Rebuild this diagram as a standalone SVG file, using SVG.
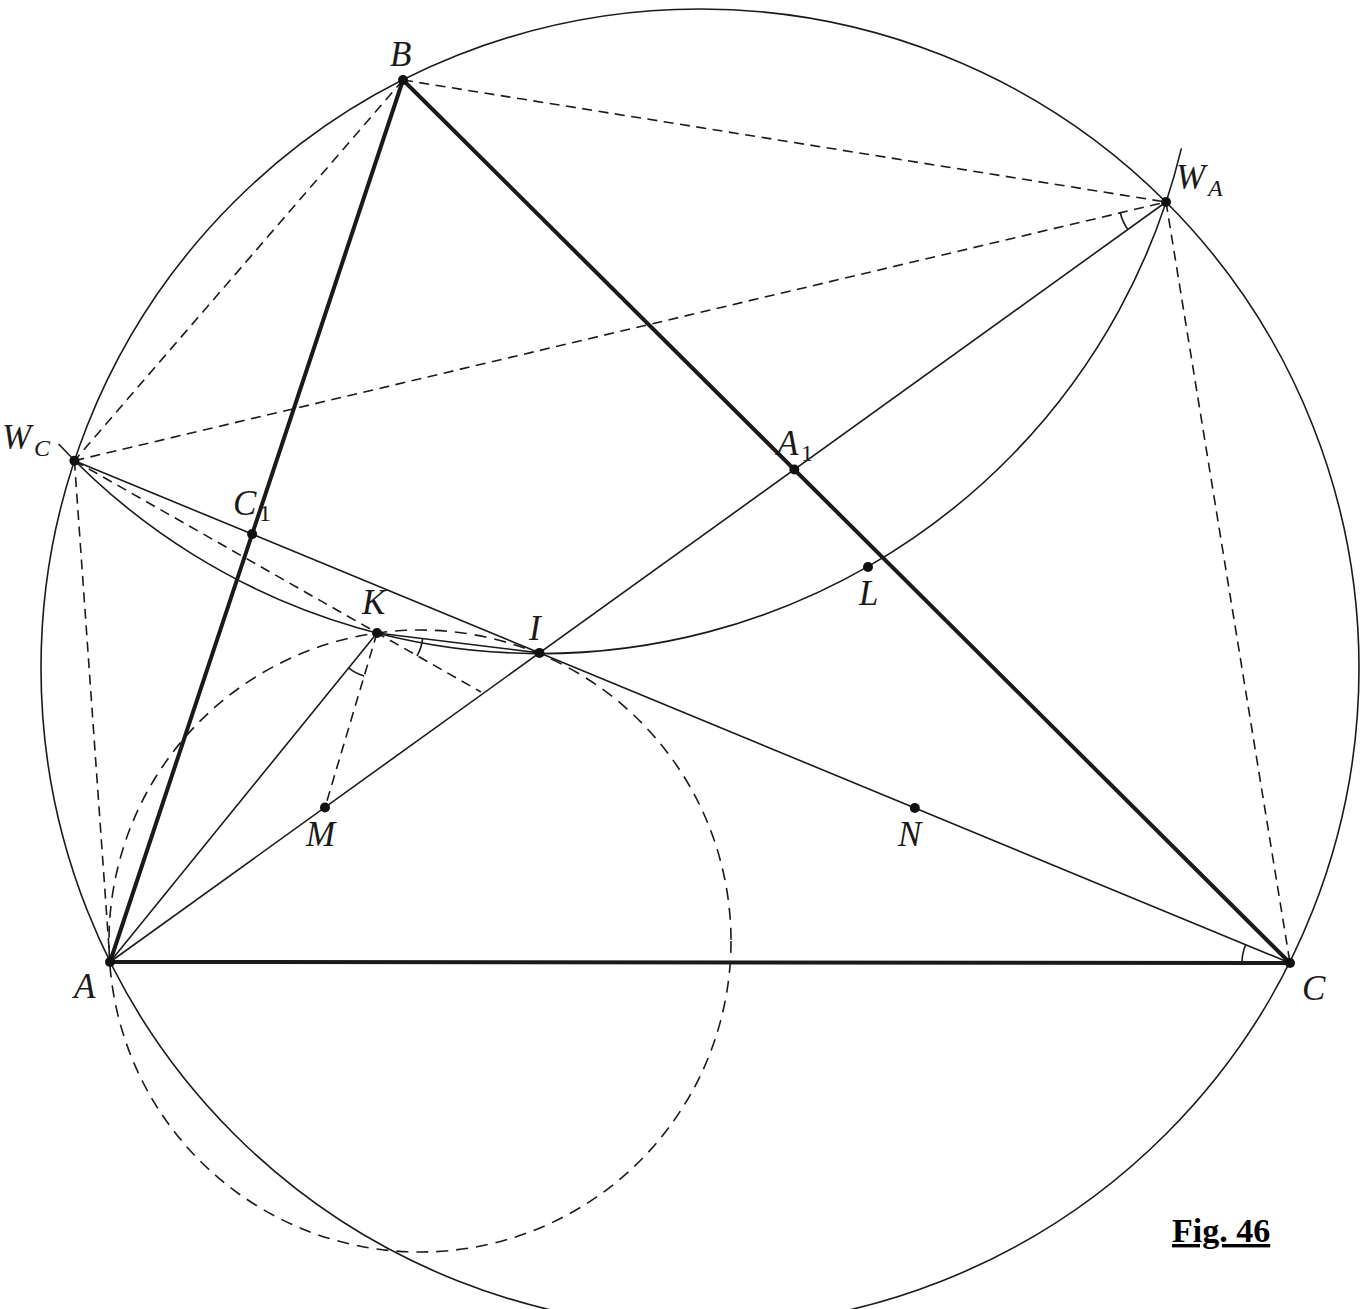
<svg xmlns="http://www.w3.org/2000/svg" width="1366" height="1309" viewBox="0 0 1366 1309">
<style>
.thin{fill:none;stroke:#1a1a1a;stroke-width:1.6}
.thick{fill:none;stroke:#1a1a1a;stroke-width:4;stroke-linecap:round}
.dash{fill:none;stroke:#1a1a1a;stroke-width:1.6;stroke-dasharray:10 6.5}
.dot{fill:#111}
.lbl{font-family:"Liberation Serif","DejaVu Serif",serif;font-style:italic;font-size:35px;fill:#1a1a1a}
.sub{font-family:"Liberation Serif","DejaVu Serif",serif;font-style:italic;font-size:24px;fill:#1a1a1a}
.subn{font-family:"Liberation Serif","DejaVu Serif",serif;font-size:24px;fill:#1a1a1a}
.fig{font-family:"Liberation Serif","Times New Roman",serif;font-weight:bold;font-size:34px;fill:#000;text-decoration:underline}
</style>
<rect width="1366" height="1309" fill="#fff"/>
<g id="connectors">
<circle class="thin" cx="700" cy="668" r="659"/>
<path class="thin" d="M 58.6 444 A 659 659 0 0 0 1181.4 148.4"/>
<circle class="dash" cx="420" cy="941" r="311" style="stroke-dasharray:12 8"/>
<line class="thick" x1="110" y1="962" x2="403" y2="80"/>
<line class="thick" x1="403" y1="80" x2="1290" y2="963"/>
<line class="thick" x1="110" y1="962" x2="1290" y2="963"/>
<line class="thin" x1="110" y1="962" x2="1166" y2="202"/>
<line class="thin" x1="1290" y1="963" x2="74.4" y2="460.7"/>
<line class="thin" x1="110" y1="962" x2="377" y2="633"/>
<line class="thin" x1="377" y1="633" x2="539.5" y2="652.9"/>
<line class="dash" x1="403" y1="80" x2="1166" y2="202"/>
<line class="dash" x1="403" y1="80" x2="74.4" y2="460.7"/>
<line class="dash" x1="74.4" y1="460.7" x2="1166" y2="202"/>
<line class="dash" x1="1166" y1="202" x2="1290" y2="963"/>
<line class="dash" x1="74.4" y1="460.7" x2="110" y2="962"/>
<line class="dash" x1="74.4" y1="460.7" x2="481" y2="692"/>
<line class="dash" x1="377" y1="633" x2="325" y2="807.5"/>
<path class="thin" d="M 1120.3 212.8 A 47 47 0 0 0 1127.8 229.4"/>
<path class="thin" d="M 1242 963 A 48 48 0 0 1 1245.6 944.7"/>
<path class="thin" d="M 348.6 667.9 A 45 45 0 0 0 364.1 676.1"/>
<path class="thin" d="M 422.6 638.6 A 46 46 0 0 1 417 656"/>
</g>
<g id="A"><circle class="dot" cx="110" cy="962" r="5"/><text class="lbl" x="74" y="998">A</text></g>
<g id="B"><circle class="dot" cx="403" cy="80" r="5"/><text class="lbl" x="390" y="66">B</text></g>
<g id="C"><circle class="dot" cx="1290" cy="963" r="5"/><text class="lbl" x="1302" y="1000">C</text></g>
<g id="WA"><circle class="dot" cx="1166" cy="202" r="5"/><text class="lbl" x="1176" y="189">W</text><text class="sub" x="1208" y="196">A</text></g>
<g id="WC"><circle class="dot" cx="74.4" cy="460.7" r="5"/><text class="lbl" x="2" y="449">W</text><text class="sub" x="34" y="456">C</text></g>
<g id="A1"><circle class="dot" cx="794.3" cy="469.5" r="5"/><text class="lbl" x="777" y="455">A</text><text class="subn" x="801" y="461">1</text></g>
<g id="C1"><circle class="dot" cx="252.1" cy="534.1" r="5"/><text class="lbl" x="233" y="515">C</text><text class="subn" x="259" y="521">1</text></g>
<g id="K"><circle class="dot" cx="377" cy="633" r="5"/><text class="lbl" x="362" y="614">K</text></g>
<g id="I"><circle class="dot" cx="539.5" cy="652.9" r="5"/><text class="lbl" x="529" y="640">I</text></g>
<g id="L"><circle class="dot" cx="868" cy="567" r="5"/><text class="lbl" x="859" y="605">L</text></g>
<g id="M"><circle class="dot" cx="325" cy="807.5" r="5"/><text class="lbl" x="306" y="846">M</text></g>
<g id="N"><circle class="dot" cx="914.8" cy="808" r="5"/><text class="lbl" x="898" y="846">N</text></g>
<text class="fig" x="1172" y="1242">Fig. 46</text>
</svg>
